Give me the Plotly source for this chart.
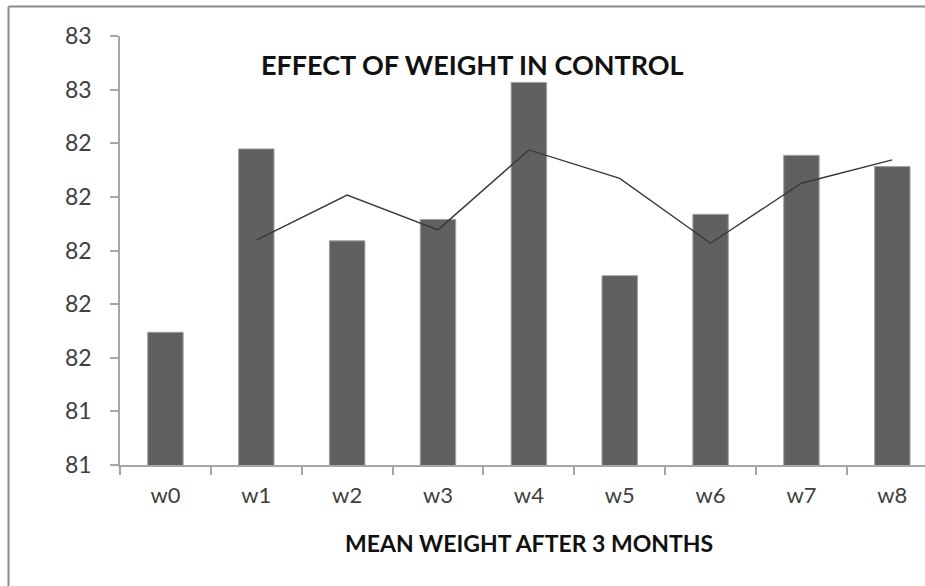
import plotly.graph_objects as go

categories = ["w0", "w1", "w2", "w3", "w4", "w5", "w6", "w7", "w8"]
bar_values = [81.695, 82.379, 82.036, 82.116, 82.627, 81.906, 82.135, 82.355, 82.313]
trend_categories = ["w1", "w2", "w3", "w4", "w5", "w6", "w7", "w8"]
trend_values = [82.039, 82.207, 82.077, 82.375, 82.269, 82.027, 82.251, 82.338]
y_tick_values = [81.2, 81.4, 81.6, 81.8, 82.0, 82.2, 82.4, 82.6, 82.8]
y_tick_labels = ["81", "81", "82", "82", "82", "82", "82", "83", "83"]

FONT = "Lato"
W, H = 925, 586
L, R, T, B = 120, 0, 36, 586 - 465
pw = W - L - R
ph = H - T - B

def px(x):
    return (x - L) / pw

def py(y):
    return (H - B - y) / ph

fig = go.Figure()
fig.add_trace(go.Bar(
    x=categories, y=bar_values,
    marker=dict(color="#606060", line=dict(color="#a0a0a0", width=1)),
    width=0.39, showlegend=False, hoverinfo="x+y",
))
fig.add_trace(go.Scatter(
    x=trend_categories, y=trend_values, mode="lines",
    line=dict(color="#383838", width=1.4), showlegend=False,
))

fig.update_layout(
    width=W, height=H,
    margin=dict(l=L, r=R, t=T, b=B),
    paper_bgcolor="white", plot_bgcolor="white",
    font=dict(family=FONT, color="#404040"),
    xaxis=dict(
        type="category", range=[-0.5, 8.36],
        showline=True, linecolor="#a6a6a6", linewidth=1.5,
        ticks="outside", tickson="boundaries", ticklen=8, tickcolor="#a6a6a6", tickwidth=1.5,
        tickfont=dict(size=22, color="#404040", family=FONT),
        ticklabelstandoff=10,
        showgrid=False, zeroline=False,
    ),
    yaxis=dict(
        range=[81.2, 82.8], tickvals=y_tick_values, ticktext=y_tick_labels,
        showline=True, linecolor="#a6a6a6", linewidth=1.5,
        ticks="outside", ticklen=8, tickcolor="#a6a6a6", tickwidth=1.5,
        tickfont=dict(size=23, color="#404040", family=FONT),
        ticklabelstandoff=14,
        showgrid=False, zeroline=False,
    ),
    annotations=[
        dict(text="<b>EFFECT OF WEIGHT IN CONTROL</b>", xref="paper", yref="paper",
             x=px(472), y=py(64), xanchor="center", yanchor="middle", showarrow=False,
             font=dict(size=27, color="#111111", family=FONT)),
        dict(text="<b>MEAN WEIGHT AFTER 3 MONTHS</b>", xref="paper", yref="paper",
             x=px(529), y=py(543), xanchor="center", yanchor="middle", showarrow=False,
             font=dict(size=23, color="#111111", family=FONT)),
    ],
    shapes=[
        dict(type="line", xref="paper", yref="paper", x0=px(8.5), x1=px(940), y0=py(6.5), y1=py(6.5),
             line=dict(color="#8c8c8c", width=2)),
        dict(type="line", xref="paper", yref="paper", x0=px(8.5), x1=px(8.5), y0=py(6.5), y1=py(600),
             line=dict(color="#8c8c8c", width=2)),
    ],
)

fig.write_html(
    "out.html",
    config={"displayModeBar": False},
    post_script=(
        "document.body.style.margin='0';document.body.style.overflow='hidden';"
        "document.documentElement.style.overflow='hidden';"
    ),
)
